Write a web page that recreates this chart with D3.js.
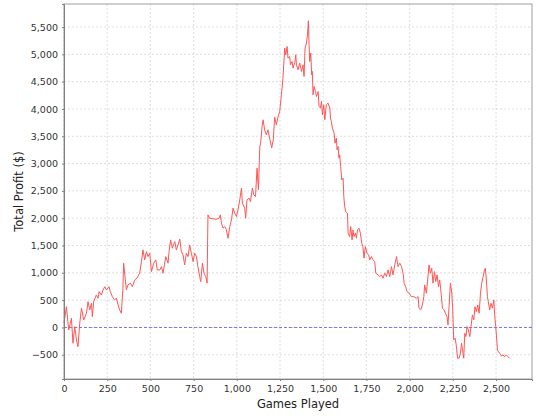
<!DOCTYPE html>
<html>
<head>
<meta charset="utf-8">
<script src="https://cdn.jsdelivr.net/npm/d3@7"></script>
<style>
  body { margin: 0; background: #fff; }
  text { font-family: "DejaVu Sans", sans-serif; }
</style>
</head>
<body>
<div class="chart"></div>
<script>
var games = [0, 14, 27, 43, 52, 62, 72, 81, 91, 101, 114, 130, 139, 149, 159, 164, 172, 187, 197, 203,
  216, 226, 236, 245, 260, 268, 280, 293, 303, 313, 322, 332, 341, 345, 351, 361, 370, 384, 396, 409,
  422, 438, 448, 457, 467, 477, 486, 496, 506, 519, 531, 540, 554, 564, 573, 589, 602,
  608, 617, 627, 641, 650, 660, 670, 679, 689, 698, 708, 718, 727, 737, 747, 756, 766, 775, 785,
  791, 801, 810, 820, 828, 833, 843, 862, 882, 897, 905, 911, 920, 930, 940, 949, 959, 969, 978,
  988, 998, 1007, 1017, 1027, 1032, 1046, 1051, 1059, 1071, 1079, 1090, 1098, 1108, 1117, 1125,
  1133, 1138, 1146, 1152, 1161, 1171, 1180, 1190, 1202, 1211,
  1219, 1229, 1238, 1248, 1258, 1267, 1277, 1283, 1291, 1296, 1306, 1310, 1320, 1325, 1335, 1341,
  1345, 1354, 1364, 1374, 1383, 1389, 1395, 1403, 1409, 1414, 1418, 1422, 1428, 1433, 1437, 1441,
  1447, 1455, 1461, 1470, 1476, 1484, 1490, 1495, 1503, 1509, 1518, 1528, 1538, 1542, 1547, 1553,
  1563, 1568, 1576, 1580, 1586, 1591, 1595, 1601, 1607, 1615, 1619, 1624, 1630, 1640, 1644, 1653,
  1659, 1667, 1672, 1678, 1686, 1692, 1698, 1707, 1715, 1723, 1730, 1736, 1744, 1753, 1763, 1769,
  1779, 1788, 1798, 1804, 1817, 1827, 1837, 1846, 1856, 1866, 1875, 1885, 1895, 1904, 1914, 1924,
  1933, 1943,
  1953, 1962, 1968, 1977, 1985, 1997, 2010, 2024, 2039, 2049, 2054, 2064, 2074, 2082, 2087, 2097,
  2107, 2112, 2120, 2128, 2135, 2144, 2151, 2159, 2167, 2174, 2182, 2190, 2199, 2207, 2216, 2222,
  2228, 2236, 2244, 2249, 2255, 2263, 2271, 2277, 2286, 2294, 2300, 2306, 2313, 2319, 2326, 2332,
  2340, 2348, 2355, 2363, 2371, 2378, 2386, 2394, 2402, 2410, 2417, 2425, 2433, 2438, 2444, 2450,
  2455, 2463, 2471, 2479, 2487, 2492, 2498, 2502, 2508, 2514, 2521, 2531, 2540, 2550, 2560, 2569, 2578];

var profit = [77, 381, -46, 168, -290, 15, -229, -352, 77, 352, 137, 260, 473, 321, 443, 198, 473, 595, 535, 656,
  595, 687, 747, 687, 747, 656, 564, 504, 535, 412, 321, 260, 718, 1176, 993, 687, 779, 810, 747, 870,
  901, 993, 1205, 1420, 1237, 1389, 1297, 1359, 1022, 1176, 1237, 1053, 1053, 1114, 993, 1297, 1176,
  1389, 1603, 1451, 1572, 1420, 1511, 1616, 1389, 1328, 1145, 1359, 1297, 1511, 1359, 1205, 1359, 1297, 1114, 931,
  839, 1176, 993, 931, 810, 2061, 2000, 1988, 1982, 2000, 2061, 1909, 1817, 1847, 1786, 1634, 1847, 1969, 2184,
  2092, 2030, 2153, 2336, 2550, 2275, 2184, 2000, 2336, 2367, 2305, 2550, 2427, 2396, 2917, 2519,
  3312, 3375, 3679, 3801, 3618, 3527, 3618, 3466, 3288, 3435,
  3850, 3710, 3850, 3953, 4259, 4565, 5115, 4992, 5144, 4932, 4961, 4809, 4869, 4749, 4840, 4992,
  4809, 4717, 4840, 4686, 4809, 4595, 5115, 5207, 5359, 5615, 5175, 4869, 5023, 4626, 4686, 4259,
  4411, 4320, 4228, 4320, 4045, 4016, 4137, 3893, 4076, 3801, 4076, 4107, 4016, 3832, 3770, 3649,
  3558, 3375, 3466, 3252, 3312, 3100, 3160, 2946, 2702, 2733, 2396, 2213, 2121, 2092, 1726, 1663,
  1847, 1603, 1786, 1663, 1726, 1634, 1786, 1817, 1726, 1543, 1480, 1268, 1480, 1359, 1328, 1237,
  1297, 1237, 1205, 993, 962, 931, 962, 901, 993, 931, 1053, 931, 1114, 962, 1145, 1297,
  1114, 1176,
  1114, 993, 810, 747, 656, 626, 564, 564, 535, 564, 352, 321, 412, 564, 779, 626,
  962, 1145, 993, 1084, 810, 1022, 839, 962, 747, 870, 626, 352, 321, 260, 198, 46,
  381, 810, 626, 352, -229, -198, -352, -564, -564, -473, -290, -412, -564, -106, -168, 15,
  -46, -168, 15, 229, 137, 381, 290, 412, 260, 626, 810, 931, 1053, 1084, 870, 564,
  473, 321, 443, 352, 504, 229, 15, -137, -412, -443, -473, -522, -504, -535, -504, -535, -564];

var xTicks = [0, 250, 500, 750, 1000, 1250, 1500, 1750, 2000, 2250, 2500];
var yTicks = [-500, 0, 500, 1000, 1500, 2000, 2500, 3000, 3500, 4000, 4500, 5000, 5500];

var svgWidth = 540;
var svgHeight = 420;
var margin = { top: 4, right: 8, bottom: 41, left: 64 };
var width = svgWidth - margin.left - margin.right;
var height = svgHeight - margin.top - margin.bottom;

var svg = d3.select(".chart")
  .append("svg")
  .attr("width", svgWidth)
  .attr("height", svgHeight);

var chartGroup = svg.append("g")
  .attr("transform", `translate(${margin.left}, ${margin.top})`);

var x = d3.scaleLinear().domain([0, 2708]).range([0, width]);
var y = d3.scaleLinear().domain([-944, 5922]).range([height, 0]);

var fmt = d3.format(",");

// grid
chartGroup.append("g")
  .selectAll("line")
  .data(xTicks)
  .enter().append("line")
  .attr("x1", d => x(d)).attr("x2", d => x(d))
  .attr("y1", 0).attr("y2", height)
  .attr("stroke", "#c8c8c8").attr("stroke-width", 0.6)
  .attr("stroke-dasharray", "2,2");

chartGroup.append("g")
  .selectAll("line")
  .data(yTicks)
  .enter().append("line")
  .attr("x1", 0).attr("x2", width)
  .attr("y1", d => y(d)).attr("y2", d => y(d))
  .attr("stroke", "#c8c8c8").attr("stroke-width", 0.6)
  .attr("stroke-dasharray", "2,2");

// outline
chartGroup.append("rect")
  .attr("x", 0).attr("y", 0)
  .attr("width", width).attr("height", height)
  .attr("fill", "none")
  .attr("stroke", "#a0a0a0");

// zero marker
chartGroup.append("line")
  .attr("x1", 0).attr("x2", width)
  .attr("y1", y(0)).attr("y2", y(0))
  .attr("stroke", "#5a5ac8").attr("stroke-width", 0.8)
  .attr("stroke-dasharray", "3,2");

var points = games.map((g, i) => [g, profit[i]]);

chartGroup.append("path")
  .datum(points)
  .attr("fill", "none")
  .attr("stroke", "#ff5555")
  .attr("stroke-width", 1)
  .attr("d", d3.line().x(d => x(d[0])).y(d => y(d[1])));

var bottomAxis = d3.axisBottom(x).tickValues(xTicks).tickFormat(fmt).tickSize(2).tickPadding(4);
var leftAxis = d3.axisLeft(y).tickValues(yTicks).tickFormat(fmt).tickSize(2).tickPadding(4);

var xg = chartGroup.append("g")
  .attr("transform", `translate(0, ${height})`)
  .call(bottomAxis);
var yg = chartGroup.append("g").call(leftAxis);

[xg, yg].forEach(function(g) {
  g.select(".domain").attr("stroke", "#808080");
  g.selectAll(".tick line").attr("stroke", "#808080");
  g.selectAll(".tick text")
    .attr("fill", "#333")
    .style("font-size", "9.5px")
    .style("font-family", "'DejaVu Sans', sans-serif");
});

svg.append("text")
  .attr("transform", `translate(${margin.left + width / 2}, 408)`)
  .attr("text-anchor", "middle")
  .style("font-size", "11.5px")
  .attr("fill", "#222")
  .text("Games Played");

svg.append("text")
  .attr("transform", `translate(23, ${margin.top + height / 2}) rotate(-90)`)
  .attr("text-anchor", "middle")
  .style("font-size", "11.5px")
  .attr("fill", "#222")
  .text("Total Profit ($)");
</script>
</body>
</html>
